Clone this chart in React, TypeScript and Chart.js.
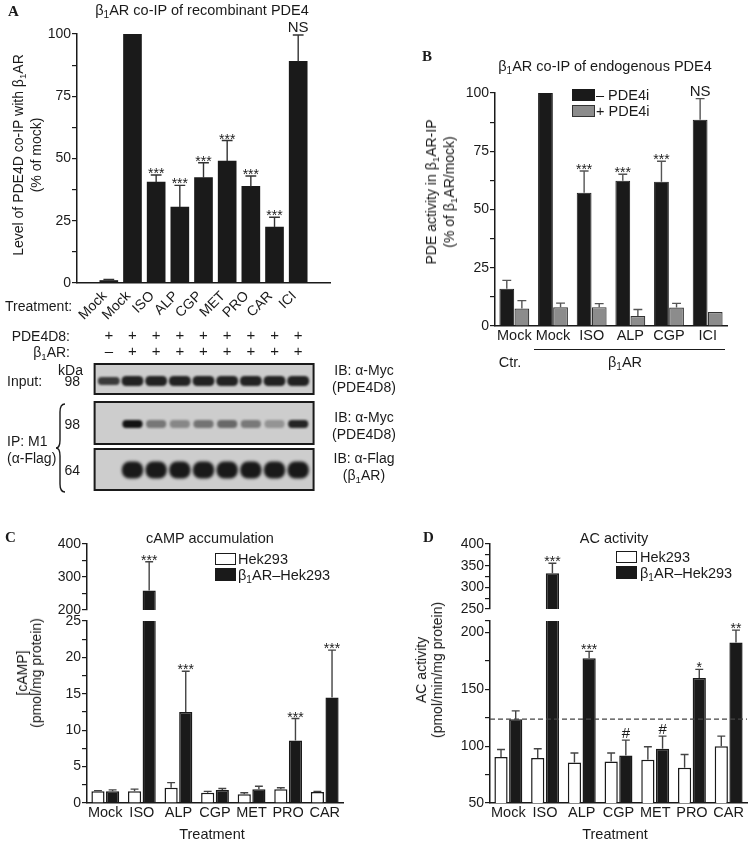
import React, { useEffect, useRef } from 'react';
import { Chart, registerables } from 'chart.js';

Chart.register(...registerables);

const FONT = '"Liberation Sans", Arial, Helvetica, sans-serif';
const SERIF = '"Liberation Serif", "DejaVu Serif", serif';
const INK = '#1a1a1a';
const GRAY = '#8c8c8c';

// ---------- Panel A: β1AR co-IP of recombinant PDE4 ----------
const aCategories = ['Mock', 'Mock', 'ISO', 'ALP', 'CGP', 'MET', 'PRO', 'CAR', 'ICI'];
const aValues = [1, 100, 40.5, 30.5, 42.3, 49, 38.8, 22.5, 89];
const aErrors = [0.4, 0, 2.9, 8.7, 6, 8.2, 4.2, 3.9, 10.6];
const aMarks = ['', '', '***', '***', '***', '***', '***', '***', 'NS'];
const aYTicks = [0, 25, 50, 75, 100];
const aPde4d8 = ['+', '+', '+', '+', '+', '+', '+', '+', '+'];
const aB1ar = ['–', '+', '+', '+', '+', '+', '+', '+', '+'];

// ---------- Panel B: β1AR co-IP of endogenous PDE4 ----------
const bCategories = ['Mock', 'Mock', 'ISO', 'ALP', 'CGP', 'ICI'];
const bMinusValues = [16, 100, 57.2, 62.3, 61.9, 88.5];
const bMinusErrors = [3.6, 0, 9.3, 2.8, 8.8, 9.1];
const bMinusMarks = ['', '', '***', '***', '***', 'NS'];
const bPlusValues = [7.5, 8, 8.1, 4.3, 7.9, 6];
const bPlusErrors = [3.4, 1.8, 1.5, 2.8, 1.8, 0];
const bYTicks = [0, 25, 50, 75, 100];

// ---------- Panel C: cAMP accumulation ----------
const cCategories = ['Mock', 'ISO', 'ALP', 'CGP', 'MET', 'PRO', 'CAR'];
const cHekValues = [1.6, 1.6, 2.1, 1.4, 1.2, 1.9, 1.5];
const cHekErrors = [0.1, 0.3, 0.7, 0.2, 0.2, 0.2, 0.1];
const cB1arValues = [1.6, 259, 12.5, 1.8, 1.9, 8.6, 14.5];
const cB1arErrors = [0.2, 87, 5.6, 0.2, 0.4, 3, 6.5];
const cB1arMarks = ['', '***', '***', '', '', '***', '***'];
const cUpperTicks = [200, 300, 400];
const cLowerTicks = [0, 5, 10, 15, 20, 25];

// ---------- Panel D: AC activity ----------
const dCategories = ['Mock', 'ISO', 'ALP', 'CGP', 'MET', 'PRO', 'CAR'];
const dHekValues = [90.4, 89.5, 85.7, 86.5, 88, 81, 100];
const dHekErrors = [6.6, 8.2, 8.3, 7.5, 11.4, 11.7, 8.8];
const dB1arValues = [123.7, 332.6, 177.2, 91.8, 97.7, 160, 191.2];
const dB1arErrors = [7.3, 23, 6.1, 13.5, 11.1, 7.5, 10.8];
const dB1arMarks = ['', '***', '***', '#', '#', '*', '**'];
const dUpperTicks = [250, 300, 350, 400];
const dLowerTicks = [50, 100, 150, 200];

// ---------- helpers ----------
function yAxis(min: number, max: number, majors: number[], step: number, width: number) {
  return {
    type: 'linear',
    position: 'left',
    min,
    max,
    afterBuildTicks: (s: any) => {
      const vals: number[] = [];
      for (let v = min; v <= max + 1e-9; v += step) vals.push(+v.toFixed(4));
      if (Math.abs(vals[vals.length - 1] - max) > 1e-6) vals.push(max);
      s.ticks = vals.map((v) => ({ value: v }));
    },
    afterFit: (s: any) => {
      s.width = width;
      s.paddingTop = 0;
      s.paddingBottom = 0;
    },
    ticks: {
      autoSkip: false,
      padding: 1,
      color: INK,
      font: { family: FONT, size: 14 },
      callback: (v: any) => (majors.includes(v) ? String(v) : ''),
    },
    grid: { drawOnChartArea: false, drawTicks: true, tickLength: 5, color: INK, lineWidth: 1.2 },
    border: { display: true, color: INK, width: 1.5 },
  };
}

function xCat(labels: string[], height: number, show: boolean) {
  return {
    type: 'category',
    labels,
    offset: true,
    display: show,
    afterFit: (s: any) => {
      s.height = height;
      s.paddingLeft = 0;
      s.paddingRight = 0;
    },
    ticks: { color: INK, font: { family: FONT, size: 14.5 }, padding: 1, maxRotation: 0, minRotation: 0, autoSkip: false },
    grid: { display: false, drawTicks: false },
    border: { display: true, color: INK, width: 1.5 },
  };
}

function baseOptions(pad: any, scales: any) {
  return {
    responsive: false,
    maintainAspectRatio: false,
    animation: false,
    devicePixelRatio: 1,
    layout: { padding: pad },
    plugins: { legend: { display: false }, tooltip: { enabled: false }, title: { display: false } },
    scales,
  };
}

const errorPlugin = {
  id: 'errorBars',
  afterDatasetsDraw(chart: any) {
    const ctx = chart.ctx;
    chart.data.datasets.forEach((ds: any, di: number) => {
      const meta = chart.getDatasetMeta(di);
      const ys = chart.scales[meta.yAxisID];
      meta.data.forEach((el: any, i: number) => {
        const raw = ds.data[i];
        const val = raw && typeof raw === 'object' ? raw.y : raw;
        if (val == null || val > ys.max || val < ys.min) return;
        const err = ds.errors ? ds.errors[i] || 0 : 0;
        const x = el.x;
        const top = ys.getPixelForValue(val);
        const capY = ys.getPixelForValue(val + err);
        ctx.save();
        if (err > 0) {
          const half = (el.width * 0.6) / 2;
          ctx.strokeStyle = ds.errorColor || INK;
          ctx.lineWidth = 1.4;
          ctx.beginPath();
          ctx.moveTo(x, top);
          ctx.lineTo(x, capY);
          ctx.moveTo(x - half, capY);
          ctx.lineTo(x + half, capY);
          ctx.stroke();
        }
        const mark = ds.marks ? ds.marks[i] : '';
        if (mark) {
          ctx.fillStyle = INK;
          ctx.textAlign = 'center';
          ctx.textBaseline = 'alphabetic';
          if (mark.includes('*')) {
            ctx.font = `14px ${FONT}`;
            ctx.fillText(mark, x, capY + 3);
          } else {
            ctx.font = `15px ${FONT}`;
            ctx.fillText(mark, x, capY - 2.5);
          }
        }
        ctx.restore();
      });
    });
  },
};

function refLinePlugin(value: number) {
  return {
    id: 'refLine',
    afterDatasetsDraw(chart: any) {
      const ys = chart.scales.y;
      const a = chart.chartArea;
      const y = ys.getPixelForValue(value);
      const ctx = chart.ctx;
      ctx.save();
      ctx.strokeStyle = '#444';
      ctx.lineWidth = 1.2;
      ctx.setLineDash([5, 3]);
      ctx.beginPath();
      ctx.moveTo(a.left, y);
      ctx.lineTo(a.right, y);
      ctx.stroke();
      ctx.restore();
    },
  };
}

function band(ctx: any, x: number, y: number, w: number, h: number, alpha: number, blur: number) {
  if (alpha <= 0.02) return;
  ctx.save();
  ctx.filter = `blur(${blur}px)`;
  ctx.fillStyle = `rgba(15,15,15,${Math.min(1, alpha)})`;
  ctx.beginPath();
  ctx.roundRect(x - w / 2, y - h / 2, w, h, h / 2.2);
  ctx.fill();
  ctx.restore();
}

const blotPlugin = {
  id: 'blot',
  afterDraw(chart: any) {
    const ctx = chart.ctx;
    const xs = chart.scales.x;
    const n = aCategories.length;
    const left = xs.getPixelForValue(-0.6);
    const right = xs.getPixelForValue(n - 0.35);
    const lane = xs.getPixelForValue(1) - xs.getPixelForValue(0);
    ctx.save();
    ctx.fillStyle = INK;
    ctx.font = `15px ${FONT}`;
    ctx.textAlign = 'center';
    ctx.textBaseline = 'middle';
    aPde4d8.forEach((s, i) => ctx.fillText(s, xs.getPixelForValue(i), 336));
    aB1ar.forEach((s, i) => ctx.fillText(s, xs.getPixelForValue(i), 352));
    const rows = [
      { top: 364, h: 30 },
      { top: 402, h: 42 },
      { top: 449, h: 41 },
    ];
    rows.forEach((r) => {
      ctx.fillStyle = '#cdcdcd';
      ctx.fillRect(left, r.top, right - left, r.h);
    });
    for (let i = 0; i < n; i++) {
      const x = xs.getPixelForValue(i);
      // input row
      band(ctx, x, 381, lane * 0.92, i === 0 ? 8 : 10, i === 0 ? 0.78 : 0.9, 1.2);
      // IP: anti-Myc row (intensity follows co-IP level)
      const on = aB1ar[i] === '+';
      band(ctx, x, 424, lane * 0.85, 8, on ? 0.1 + (0.88 * aValues[i]) / 100 : 0, 1.3);
      // IP: anti-Flag row
      band(ctx, x, 470, lane * 0.9, 17, on ? 0.95 : 0, 1.6);
    }
    rows.forEach((r) => {
      ctx.strokeStyle = INK;
      ctx.lineWidth = 2;
      ctx.strokeRect(left, r.top, right - left, r.h);
    });
    ctx.restore();
  },
};

function ChartBox({ left, top, width, height, build }: any) {
  const ref = useRef<HTMLCanvasElement>(null);
  useEffect(() => {
    const chart = new Chart(ref.current as HTMLCanvasElement, build());
    return () => chart.destroy();
  }, []);
  return (
    <canvas
      ref={ref}
      width={width}
      height={height}
      style={{ position: 'absolute', left, top, width, height, display: 'block' }}
    />
  );
}

// ---------- chart builders ----------
function buildA(): any {
  return {
    type: 'bar',
    data: {
      datasets: [
        {
          data: aValues.map((v, i) => ({ x: i, y: v })),
          backgroundColor: INK,
          borderColor: INK,
          borderWidth: 0,
          barThickness: 18,
          errors: aErrors,
          marks: aMarks,
          errorColor: '#333',
        },
      ],
    },
    options: baseOptions({ top: 34, left: 0, right: 50, bottom: 177 }, {
      x: {
        type: 'linear',
        min: -0.75,
        max: aCategories.length - 0.25,
        afterBuildTicks: (s: any) => {
          s.ticks = aCategories.map((_, i) => ({ value: i }));
        },
        afterFit: (s: any) => {
          s.height = 40;
          s.paddingLeft = 0;
          s.paddingRight = 0;
        },
        ticks: {
          autoSkip: false,
          minRotation: 45,
          maxRotation: 45,
          labelOffset: -4,
          padding: 5,
          color: INK,
          font: { family: FONT, size: 14 },
          callback: (v: any) => aCategories[v] ?? '',
        },
        grid: { display: false, drawTicks: false },
        border: { display: true, color: INK, width: 1.5 },
      },
      y: yAxis(0, 100, aYTicks, 12.5, 77),
    }),
    plugins: [errorPlugin, blotPlugin],
  };
}

function buildB(): any {
  return {
    type: 'bar',
    data: {
      labels: bCategories,
      datasets: [
        {
          data: bMinusValues,
          backgroundColor: INK,
          borderColor: INK,
          borderWidth: 1,
          categoryPercentage: 0.78,
          barPercentage: 0.98,
          errors: bMinusErrors,
          marks: bMinusMarks,
          errorColor: '#555',
        },
        {
          data: bPlusValues,
          backgroundColor: GRAY,
          borderColor: '#333',
          borderWidth: 1.2,
          categoryPercentage: 0.78,
          barPercentage: 0.98,
          errors: bPlusErrors,
          marks: [],
          errorColor: '#555',
        },
      ],
    },
    options: baseOptions({ top: 43, left: 0, right: 23, bottom: 0 }, {
      x: xCat(bCategories, 24, true),
      y: yAxis(0, 100, bYTicks, 12.5, 115),
    }),
    plugins: [errorPlugin],
  };
}

function pairDatasets(white: number[], whiteErr: number[], black: number[], blackErr: number[], blackMarks: string[], floor: number | null) {
  const pick = (arr: number[]) => (floor == null ? arr : arr.map((v) => (v > floor ? v : null)));
  return [
    {
      data: pick(white),
      backgroundColor: '#ffffff',
      borderColor: INK,
      borderWidth: 1.5,
      categoryPercentage: 0.8,
      barPercentage: 0.9,
      errors: whiteErr,
      marks: [],
      errorColor: '#444',
    },
    {
      data: pick(black),
      backgroundColor: INK,
      borderColor: INK,
      borderWidth: 1.5,
      categoryPercentage: 0.8,
      barPercentage: 0.9,
      errors: blackErr,
      marks: blackMarks,
      errorColor: '#444',
    },
  ];
}

function buildCUpper(): any {
  return {
    type: 'bar',
    data: { labels: cCategories, datasets: pairDatasets(cHekValues, cHekErrors, cB1arValues, cB1arErrors, cB1arMarks, 200) },
    options: baseOptions({ top: 14, left: 0, right: 37, bottom: 10 }, {
      x: xCat(cCategories, 0, false),
      y: yAxis(200, 400, cUpperTicks, 50, 87),
    }),
    plugins: [errorPlugin],
  };
}

function buildCLower(): any {
  return {
    type: 'bar',
    data: { labels: cCategories, datasets: pairDatasets(cHekValues, cHekErrors, cB1arValues, cB1arErrors, cB1arMarks, null) },
    options: baseOptions({ top: 9, left: 0, right: 37, bottom: 5 }, {
      x: xCat(cCategories, 22, true),
      y: yAxis(0, 25, cLowerTicks, 2.5, 87),
    }),
    plugins: [errorPlugin],
  };
}

function buildDUpper(): any {
  return {
    type: 'bar',
    data: { labels: dCategories, datasets: pairDatasets(dHekValues, dHekErrors, dB1arValues, dB1arErrors, dB1arMarks, 250) },
    options: baseOptions({ top: 14, left: 0, right: 3, bottom: 11 }, {
      x: xCat(dCategories, 0, false),
      y: yAxis(250, 400, dUpperTicks, 25, 115),
    }),
    plugins: [errorPlugin],
  };
}

function buildDLower(): any {
  return {
    type: 'bar',
    data: { labels: dCategories, datasets: pairDatasets(dHekValues, dHekErrors, dB1arValues, dB1arErrors, dB1arMarks, null) },
    options: baseOptions({ top: 9, left: 0, right: 3, bottom: 5 }, {
      x: xCat(dCategories, 22, true),
      y: yAxis(50, 210, dLowerTicks, 25, 115),
    }),
    plugins: [refLinePlugin(dB1arValues[0]), errorPlugin],
  };
}

// ---------- HTML text helpers ----------
const B1 = () => (
  <>
    β<span style={{ fontSize: '0.7em', position: 'relative', top: '0.3em' }}>1</span>AR
  </>
);

function T({ x, y, children, align = 'left', size = 14, weight = 400, family = FONT, lh = 1.15 }: any) {
  const tx = align === 'center' ? '-50%' : align === 'right' ? '-100%' : '0';
  return (
    <div
      style={{
        position: 'absolute',
        left: x,
        top: y,
        transform: `translate(${tx}, -50%)`,
        fontFamily: family,
        fontSize: size,
        fontWeight: weight,
        lineHeight: lh,
        color: INK,
        whiteSpace: 'nowrap',
        textAlign: align,
      }}
    >
      {children}
    </div>
  );
}

function VT({ x, y, children, size = 14, lh = 16 }: any) {
  return (
    <div
      style={{
        position: 'absolute',
        left: x,
        top: y,
        transform: 'translate(-50%, -50%) rotate(-90deg)',
        fontFamily: FONT,
        fontSize: size,
        lineHeight: `${lh}px`,
        color: INK,
        whiteSpace: 'nowrap',
        textAlign: 'center',
      }}
    >
      {children}
    </div>
  );
}

function Box({ x, y, w, h, fill, border = INK }: any) {
  return (
    <div
      style={{
        position: 'absolute',
        left: x,
        top: y,
        width: w,
        height: h,
        background: fill,
        border: `1.5px solid ${border}`,
        boxSizing: 'border-box',
      }}
    />
  );
}

export default function App() {
  return (
    <div style={{ position: 'absolute', left: 0, top: 0, width: 750, height: 841, background: '#fff', overflow: 'hidden' }}>
      {/* Panel A */}
      <ChartBox left={0} top={0} width={380} height={500} build={buildA} />
      <T x={8} y={12} size={15} weight={700} family={SERIF}>A</T>
      <T x={202} y={10} align="center" size={14.5}><B1 /> co-IP of recombinant PDE4</T>
      <VT x={27} y={155}>
        Level of PDE4D co-IP with <B1 />
        <br />
        (% of mock)
      </VT>
      <T x={5} y={306}>Treatment:</T>
      <T x={70} y={336} align="right">PDE4D8:</T>
      <T x={70} y={352} align="right"><B1 />:</T>
      <T x={83} y={370} align="right">kDa</T>
      <T x={7} y={381}>Input:</T>
      <T x={80} y={381} align="right">98</T>
      <T x={80} y={424} align="right">98</T>
      <T x={7} y={441}>IP: M1</T>
      <T x={7} y={458}>(α-Flag)</T>
      <T x={80} y={470} align="right">64</T>
      <svg style={{ position: 'absolute', left: 55, top: 403 }} width={12} height={90}>
        <path d="M 10 1 Q 5 1 5 9 L 5 37 Q 5 45 1 45 Q 5 45 5 53 L 5 81 Q 5 89 10 89" stroke={INK} strokeWidth={1.4} fill="none" />
      </svg>
      <T x={364} y={379} align="center" lh={1.2}>IB: α-Myc<br />(PDE4D8)</T>
      <T x={364} y={426} align="center" lh={1.2}>IB: α-Myc<br />(PDE4D8)</T>
      <T x={364} y={467} align="center" lh={1.2}>IB: α-Flag<br />(<B1 />)</T>

      {/* Panel B */}
      <ChartBox left={380} top={50} width={370} height={300} build={buildB} />
      <T x={422} y={57} size={15} weight={700} family={SERIF}>B</T>
      <T x={605} y={66} align="center" size={14.5}><B1 /> co-IP of endogenous PDE4</T>
      <VT x={441} y={192}>
        PDE activity in <B1 />-IP
        <br />
        (% of <B1 />/mock)
      </VT>
      <Box x={572} y={89} w={23} h={12} fill={INK} />
      <Box x={572} y={105} w={23} h={12} fill={GRAY} border="#333" />
      <T x={596} y={95} size={14.5}>– PDE4i</T>
      <T x={596} y={111} size={14.5}>+ PDE4i</T>
      <div style={{ position: 'absolute', left: 534, top: 349, width: 191, height: 0, borderTop: `1.5px solid ${INK}` }} />
      <T x={510} y={362} align="center" size={14.5}>Ctr.</T>
      <T x={625} y={362} align="center" size={14.5}><B1 /></T>

      {/* Panel C */}
      <ChartBox left={0} top={530} width={380} height={90} build={buildCUpper} />
      <ChartBox left={0} top={612} width={380} height={218} build={buildCLower} />
      <T x={5} y={538} size={15} weight={700} family={SERIF}>C</T>
      <T x={210} y={538} align="center" size={14.5}>cAMP accumulation</T>
      <VT x={29} y={673} lh={14}>
        [cAMP]
        <br />
        (pmol/mg protein)
      </VT>
      <Box x={215} y={553} w={21} h={12} fill="#fff" />
      <Box x={215} y={568} w={21} h={13} fill={INK} />
      <T x={238} y={559} size={14.5}>Hek293</T>
      <T x={238} y={575} size={14.5}><B1 />–Hek293</T>
      <T x={212} y={834} align="center" size={14.5}>Treatment</T>

      {/* Panel D */}
      <ChartBox left={375} top={530} width={375} height={90} build={buildDUpper} />
      <ChartBox left={375} top={612} width={375} height={218} build={buildDLower} />
      <T x={423} y={538} size={15} weight={700} family={SERIF}>D</T>
      <T x={614} y={538} align="center" size={14.5}>AC activity</T>
      <VT x={429} y={670}>
        AC activity
        <br />
        (pmol/min/mg protein)
      </VT>
      <Box x={616} y={551} w={21} h={12} fill="#fff" />
      <Box x={616} y={566} w={21} h={13} fill={INK} />
      <T x={640} y={557} size={14.5}>Hek293</T>
      <T x={640} y={573} size={14.5}><B1 />–Hek293</T>
      <T x={615} y={834} align="center" size={14.5}>Treatment</T>
    </div>
  );
}
